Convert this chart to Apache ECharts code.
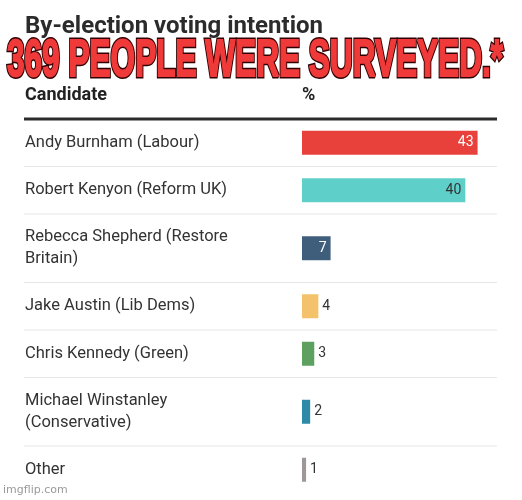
<!DOCTYPE html>
<html lang="en">
<head>
  <meta charset="UTF-8">
  <title>by-election</title>
  <style>
    html, body { margin:0; padding:0; background:#fff; }
    #chart { width:522px; height:500px; }
  </style>
</head>
<body>
  <div id="chart"></div>
  <script src="https://cdn.jsdelivr.net/npm/echarts@6/dist/echarts.min.js"></script>
  <script>
    // data
    var candidates = [
      'Andy Burnham (Labour)',
      'Robert Kenyon (Reform UK)',
      'Rebecca Shepherd (Restore\nBritain)',
      'Jake Austin (Lib Dems)',
      'Chris Kennedy (Green)',
      'Michael Winstanley\n(Conservative)',
      'Other'
    ]
    var shares = [43, 40, 7, 4, 3, 2, 1]

    // styling per row
    var barColors = ['#e8403a', '#5fd0c9', '#3f5e7c', '#f4c26a', '#5ca15f', '#2d8ba8', '#9d9897']
    var labelInk = ['#ffffff', '#333333', '#ffffff', '#333333', '#333333', '#333333', '#333333']

    var font = 'Roboto'
    var headerLine = 119
    var grids = [], xAxes = [], yAxes = [], series = [], lines = []
    var rowTop = headerLine
    candidates.forEach(function (name, i) {
      var h = name.indexOf('\n') >= 0 ? 68.5 : 47.5
      grids.push({ left:302, width:196, top:rowTop, height:h })
      xAxes.push({ gridIndex:i, type:'value', min:0, max:48, show:false })
      yAxes.push({
        gridIndex:i, type:'category', data:[name],
        axisLine:{ show:false }, axisTick:{ show:false },
        axisLabel:{ align:'left', margin:277, fontSize:16.5, color:'#333', lineHeight:22, fontFamily:font }
      })
      var inside = shares[i] >= 7
      series.push({
        type:'bar', xAxisIndex:i, yAxisIndex:i, barWidth:24,
        itemStyle:{ color:barColors[i] },
        label:{
          show:true,
          position: inside ? 'insideRight' : 'right',
          distance:4,
          color:labelInk[i], fontSize:14, fontFamily:font
        },
        data:[shares[i]]
      })
      rowTop += h
      if (i < candidates.length - 1) {
        lines.push({ type:'line', shape:{ x1:24, y1:rowTop, x2:497, y2:rowTop }, style:{ stroke:'#e6e6e6', lineWidth:1 } })
      }
    })

    // squeeze the meme caption into the width it takes in the picture
    var caption = '369 PEOPLE WERE SURVEYED.*'
    var capFont = 'bold 52px "Liberation Sans"'
    var ctx = document.createElement('canvas').getContext('2d')
    ctx.font = capFont
    var capScale = 496 / ctx.measureText(caption).width

    var graphics = [
      { type:'text', left:25, top:15, style:{ text:'By-election voting intention', fontSize:24, fontWeight:'bold', fill:'#2b2b2b', fontFamily:font } },
      { type:'text', left:25, top:86, style:{ text:'Candidate', fontSize:18, fontWeight:'bold', fill:'#222', fontFamily:font } },
      { type:'text', left:302, top:86, style:{ text:'%', fontSize:18, fontWeight:'bold', fill:'#222', fontFamily:font } },
      { type:'line', shape:{ x1:24, y1:headerLine, x2:497, y2:headerLine }, style:{ stroke:'#2b2b2b', lineWidth:3 } },
      // dark glow under the caption
      {
        type:'text', x:7, y:62, scaleX:capScale, z:100,
        style:{
          text:caption, font:capFont, verticalAlign:'middle',
          fill:'#300000', stroke:'#300000', lineWidth:5,
          shadowColor:'rgba(0,0,0,0.9)', shadowBlur:7
        }
      },
      // red caption on top, thickened with its own stroke
      {
        type:'text', x:7, y:62, scaleX:capScale, z:101,
        style:{
          text:caption, font:capFont, verticalAlign:'middle',
          fill:'#f03a3a', stroke:'#f03a3a', lineWidth:2
        }
      },
      { type:'text', left:3, top:485, style:{ text:'imgflip.com', fontSize:11, fill:'#9a9a9a', fontFamily:'DejaVu Sans' } }
    ].concat(lines)

    var myChart = echarts.init(document.getElementById('chart'))
    myChart.setOption({
      animation:false,
      grid:grids,
      xAxis:xAxes,
      yAxis:yAxes,
      series:series,
      graphic:graphics
    })
  </script>
</body>
</html>
